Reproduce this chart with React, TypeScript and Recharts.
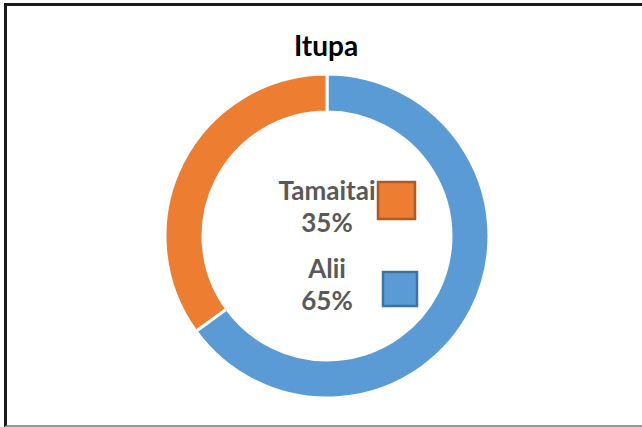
import { PieChart, Pie, Cell } from 'recharts';

const categories = ['Alii', 'Tamaitai'];
const values = [65, 35];
const colors = ['#5B9BD5', '#ED7D31'];
const keyBorders = ['#41719C', '#AE5A21'];
const title = 'Itupa';

const data = categories.map((name, i) => ({ name, value: values[i] }));

const FONT = 'Lato, "Open Sans", sans-serif';

// Excel-style data label: name + percent, with a little legend key to the right
const renderLabel = (props: any) => {
  const { cx, cy, index, name, percent } = props;
  // Tamaitai sits above, Alii below
  const base = index === 1 ? cy - 36 : cy + 42;
  const keyX = index === 1 ? cx + 51 : cx + 56;
  const keyY = index === 1 ? cy - 54 : cy + 36;
  const keySize = index === 1 ? 37 : 34;
  return (
    <g>
      <text x={cx} y={base} textAnchor="middle" fill="#595959" fontFamily={FONT} fontWeight={700} fontSize={26}>
        {name}
      </text>
      <text x={cx} y={base + 32} textAnchor="middle" fill="#595959" fontFamily={FONT} fontWeight={700} fontSize={26}>
        {`${Math.round(percent * 100)}%`}
      </text>
      <rect x={keyX} y={keyY} width={keySize} height={keySize} fill={colors[index]} stroke={keyBorders[index]} strokeWidth={2.5} />
    </g>
  );
};

const App = () => {
  return (
    <div style={{ position: 'absolute', left: 0, top: 0, width: 642, height: 427, background: '#fff' }}>
      <div
        style={{
          position: 'absolute',
          left: 4,
          top: 3,
          width: 640,
          height: 424,
          borderTop: '3px solid #1a1a1a',
          borderLeft: '3px solid #1a1a1a',
          borderBottom: '2px solid #999',
          boxSizing: 'border-box',
        }}
      />
      <div
        style={{
          position: 'absolute',
          left: 0,
          top: 28,
          width: 652,
          textAlign: 'center',
          fontFamily: FONT,
          fontWeight: 700,
          fontSize: 28,
          color: '#000',
        }}
      >
        {title}
      </div>
      <PieChart width={642} height={427} margin={{ top: 0, right: 0, bottom: 0, left: 0 }} style={{ position: 'absolute', left: 0, top: 0 }}>
        <Pie
          data={data}
          dataKey="value"
          nameKey="name"
          cx={327}
          cy={236}
          innerRadius={124}
          outerRadius={162}
          startAngle={90}
          endAngle={-270}
          stroke="#fff"
          strokeWidth={3}
          label={renderLabel}
          labelLine={false}
          isAnimationActive={false}
        >
          {data.map((d, i) => (
            <Cell key={d.name} fill={colors[i]} />
          ))}
        </Pie>
      </PieChart>
    </div>
  );
};

export default App;
